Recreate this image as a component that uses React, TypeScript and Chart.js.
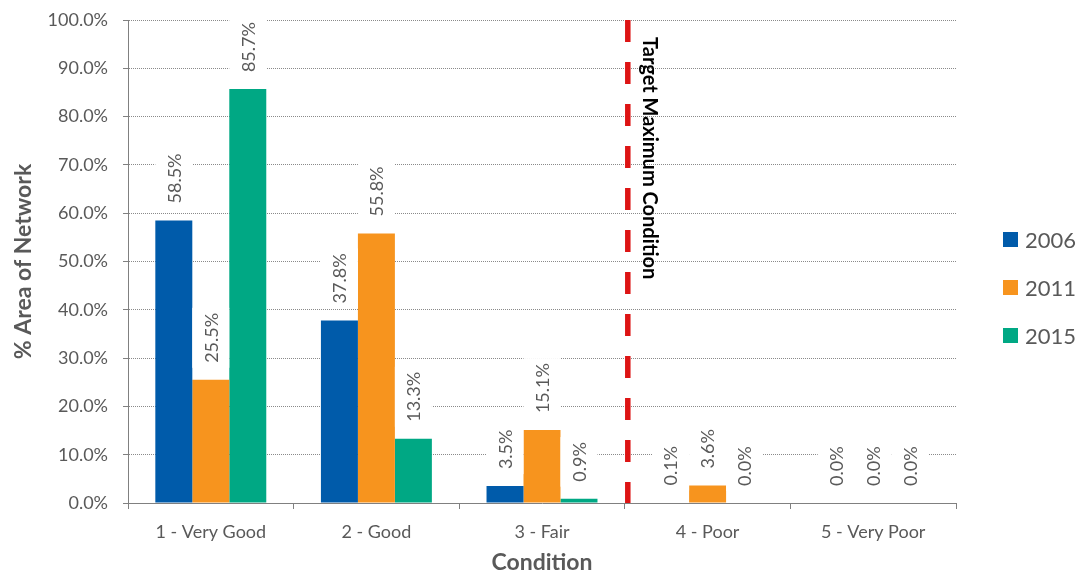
import React, { useEffect, useRef } from "react";
import { Chart, registerables } from "chart.js";

Chart.register(...registerables);

const categories = ["1 - Very Good", "2 - Good", "3 - Fair", "4 - Poor", "5 - Very Poor"];
const seriesNames = ["2006", "2011", "2015"];
const values2006 = [58.5, 37.8, 3.5, 0.1, 0.0];
const values2011 = [25.5, 55.8, 15.1, 3.6, 0.0];
const values2015 = [85.7, 13.3, 0.9, 0.0, 0.0];
const seriesColors = ["#005BAA", "#F7941E", "#00A884"];
const yTicks = [0, 10, 20, 30, 40, 50, 60, 70, 80, 90, 100];
const targetText = "Target Maximum Condition";
const targetPosition = 2.5; // between "3 - Fair" and "4 - Poor"

const GREY = "#595959";
const FONT = "Lato, 'Open Sans', sans-serif";

const overlayPlugin = {
  id: "overlay",
  afterDatasetsDraw(chart: any) {
    const ctx = chart.ctx;
    const area = chart.chartArea;
    const xScale = chart.scales.x;

    // Target line
    const lx = xScale.getPixelForValue(targetPosition) + 3;
    ctx.save();
    ctx.strokeStyle = "#DD1414";
    ctx.lineWidth = 5.5;
    ctx.setLineDash([22, 20]);
    ctx.beginPath();
    ctx.moveTo(lx, area.top);
    ctx.lineTo(lx, area.bottom);
    ctx.stroke();
    ctx.restore();

    ctx.save();
    ctx.translate(lx + 22, area.top + 17);
    ctx.rotate(Math.PI / 2);
    ctx.font = `bold 20px ${FONT}`;
    ctx.fillStyle = "#000";
    ctx.textAlign = "left";
    ctx.textBaseline = "middle";
    ctx.fillText(targetText, 0, 0);
    ctx.restore();

    // Data labels
    ctx.save();
    ctx.font = `18px ${FONT}`;
    chart.data.datasets.forEach((ds: any, di: number) => {
      const meta = chart.getDatasetMeta(di);
      meta.data.forEach((bar: any, i: number) => {
        const v = ds.data[i] as number;
        const text = v.toFixed(1) + "%";
        const tw = ctx.measureText(text).width;
        const bottom = bar.y - 17;
        const w = bar.width;
        ctx.fillStyle = "#fff";
        ctx.fillRect(bar.x - w / 2, bottom - tw - 5, w, tw + 10);
        ctx.save();
        ctx.translate(bar.x, bottom);
        ctx.rotate(-Math.PI / 2);
        ctx.fillStyle = GREY;
        ctx.textAlign = "left";
        ctx.textBaseline = "middle";
        ctx.fillText(text, 0, 1);
        ctx.restore();
      });
    });
    ctx.restore();

    // Legend
    ctx.save();
    ctx.font = `22px ${FONT}`;
    const lx0 = area.right + 47;
    const ly0 = 239.5;
    chart.data.datasets.forEach((ds: any, di: number) => {
      const cy = ly0 + di * 48;
      ctx.fillStyle = ds.backgroundColor;
      ctx.fillRect(lx0, cy - 7.5, 15, 15);
      ctx.fillStyle = GREY;
      ctx.textAlign = "left";
      ctx.textBaseline = "middle";
      ctx.fillText(ds.label, lx0 + 22, cy + 1);
    });
    ctx.restore();
  },
};

export default function App() {
  const ref = useRef<HTMLCanvasElement | null>(null);

  useEffect(() => {
    document.body.style.margin = "0";
    if (!ref.current) return;
    const allValues = [values2006, values2011, values2015];
    const chart = new Chart(ref.current, {
      type: "bar",
      data: {
        labels: categories,
        datasets: seriesNames.map((name, i) => ({
          label: name,
          data: allValues[i],
          backgroundColor: seriesColors[i],
          borderWidth: 0,
          barPercentage: 1,
          categoryPercentage: 0.67,
        })),
      },
      options: {
        animation: false,
        responsive: true,
        maintainAspectRatio: false,
        layout: { padding: { top: 20, right: 127, left: 0, bottom: 0 } },
        plugins: {
          legend: { display: false },
          tooltip: { enabled: false },
        },
        scales: {
          x: {
            grid: {
              display: true,
              drawOnChartArea: false,
              drawTicks: true,
              tickLength: 6,
              color: "#808080",
              offset: true,
            },
            border: { display: true, color: "#808080", width: 1 },
            ticks: {
              color: GREY,
              font: { family: FONT, size: 18 },
              padding: 12,
              maxRotation: 0,
            },
            title: {
              display: true,
              text: "Condition",
              color: GREY,
              font: { family: FONT, size: 23, weight: "bold" },
              padding: { top: 1, bottom: 1 },
            },
            afterFit(scale: any) {
              scale.height = 74;
              scale.paddingLeft = 0;
              scale.paddingRight = 0;
            },
          },
          y: {
            min: 0,
            max: 100,
            afterBuildTicks(scale: any) {
              scale.ticks = yTicks.map((v) => ({ value: v }));
            },
            grid: {
              color: "#8a8a8a",
              lineWidth: 1,
              drawTicks: true,
              tickLength: 5,
              tickColor: "#808080",
              tickBorderDash: [],
            },
            border: { display: true, color: "#808080", width: 1, dash: [1, 1] },
            ticks: {
              color: GREY,
              font: { family: FONT, size: 18 },
              padding: 15,
              callback: (v: any) => Number(v).toFixed(1) + "%",
            },
            title: {
              display: true,
              text: "% Area of Network",
              color: GREY,
              font: { family: FONT, size: 23, weight: "bold" },
              padding: { top: 10, bottom: 10 },
            },
            afterFit(scale: any) {
              scale.width = 128;
              scale.paddingTop = 0;
              scale.paddingBottom = 0;
            },
          },
        },
      },
      plugins: [overlayPlugin],
    } as any);
    return () => chart.destroy();
  }, []);

  return (
    <div style={{ width: 1083, height: 577, position: "relative" }}>
      <canvas ref={ref} style={{ display: "block" }} />
    </div>
  );
}
